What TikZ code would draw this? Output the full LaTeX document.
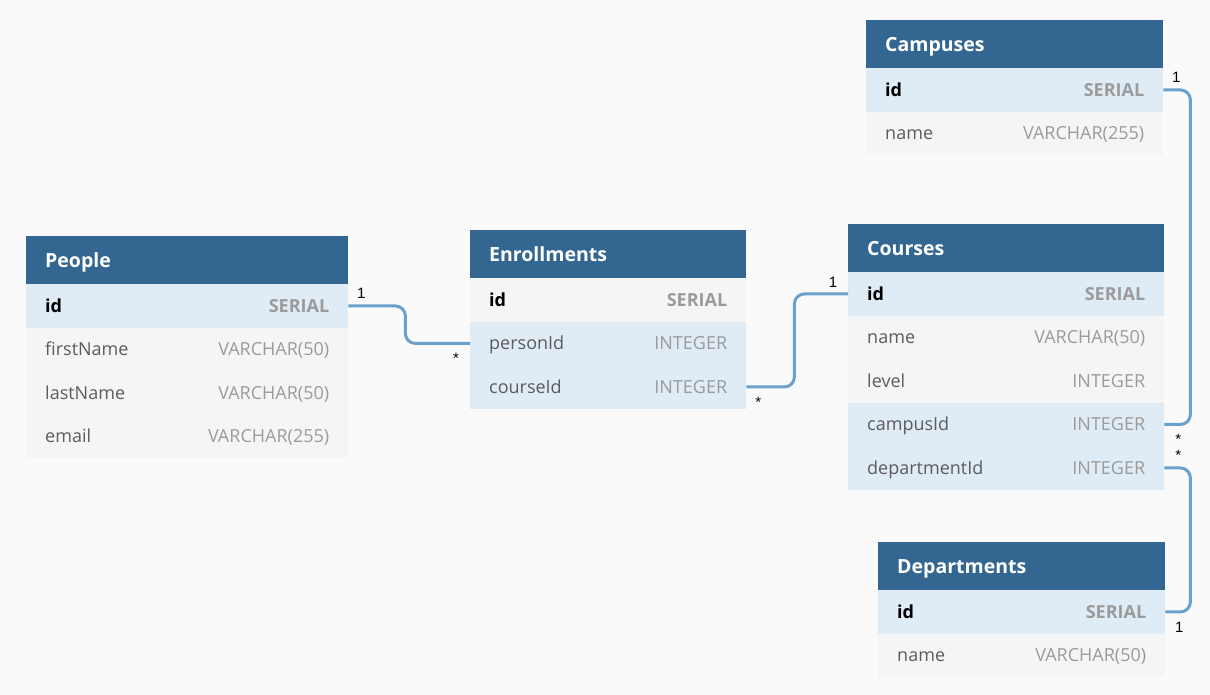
\documentclass[tikz,border=0pt]{standalone}
\usepackage{fontspec}
\setmainfont{Open Sans}
\newfontfamily\cardfont{Liberation Sans}
\usepackage{xcolor}
\usetikzlibrary{matrix}

\definecolor{pagebg}{HTML}{FAFAFA}
\definecolor{headblue}{HTML}{336791}
\definecolor{keyrow}{HTML}{DFEBF5}
\definecolor{plainrow}{HTML}{F5F5F5}
\definecolor{linkblue}{HTML}{6AA1CC}
\definecolor{namegray}{HTML}{5C5C5C}
\definecolor{typegray}{HTML}{9B9B9B}

\newcommand{\coltype}[1]{\hskip 0pt plus 1filll\textcolor{typegray}{#1}}

\tikzset{
  cell/.style={inner xsep=19pt, inner ysep=0pt, minimum height=43.5pt, text height=13pt, text depth=0pt,
    align=justify, fill=plainrow, text=namegray, font=\fontsize{18}{20}\selectfont},
  head/.style={fill=headblue, text=white, minimum height=48pt, text height=14pt,
    font=\fontsize{19.5}{22}\selectfont\bfseries},
  keyfill/.style={nodes={fill=keyrow}},
  tbl/.style={matrix of nodes, inner sep=0pt, row sep=0pt, column sep=0pt, anchor=north west,
    nodes={cell, text width=#1},
    row 1/.style={nodes={head}},
    row 2/.style={nodes={text=black, font=\fontsize{18}{20}\selectfont\bfseries}}},
  link/.style={draw=linkblue, color=linkblue, line width=3pt},
  elbow/.style={rounded corners=10pt, to path={-- ++(#1,0) |- (\tikztotarget)}},
  card/.style={inner sep=0pt, text=black, font=\cardfont\fontsize{15}{15}\selectfont}
}

\begin{document}
\begin{tikzpicture}[x=1pt, y=-1pt]
  \fill[pagebg] (0,0) rectangle (1210,695);

  \matrix (people) [tbl=284pt, row 2/.append style=keyfill] at (26,236) {
    People \\
    id \coltype{SERIAL} \\
    firstName \coltype{VARCHAR(50)} \\
    lastName \coltype{VARCHAR(50)} \\
    email \coltype{VARCHAR(255)} \\
  };
  \matrix (enroll) [tbl=238pt, row 3/.style=keyfill, row 4/.style=keyfill] at (470,230) {
    Enrollments \\
    id \coltype{SERIAL} \\
    personId \coltype{INTEGER} \\
    courseId \coltype{INTEGER} \\
  };
  \matrix (courses) [tbl=278pt, row 2/.append style=keyfill, row 5/.style=keyfill, row 6/.style=keyfill] at (848,224) {
    Courses \\
    id \coltype{SERIAL} \\
    name \coltype{VARCHAR(50)} \\
    level \coltype{INTEGER} \\
    campusId \coltype{INTEGER} \\
    departmentId \coltype{INTEGER} \\
  };
  \matrix (campuses) [tbl=259pt, row 2/.append style=keyfill] at (866,20) {
    Campuses \\
    id \coltype{SERIAL} \\
    name \coltype{VARCHAR(255)} \\
  };
  \matrix (depts) [tbl=249pt, row 2/.append style=keyfill] at (878,542) {
    Departments \\
    id \coltype{SERIAL} \\
    name \coltype{VARCHAR(50)} \\
  };

  \path[link]
    (people-2-1.east) edge[elbow=57] (enroll-3-1.west)
    (enroll-4-1.east) edge[elbow=48] (courses-2-1.west)
    (courses-5-1.east) edge[elbow=26] (campuses-2-1.east)
    (courses-6-1.east) edge[elbow=26] (depts-2-1.east);

  % cardinalities
  \node[card] (people-one) at ([shift={(13,-12.5)}]people-2-1.east) {1};
  \node[card] (person-many) at ([shift={(-14,15)}]enroll-3-1.west) {*};
  \node[card] (course-many) at ([shift={(12,15)}]enroll-4-1.east) {*};
  \node[card] (courses-one) at ([shift={(-15,-12)}]courses-2-1.west) {1};
  \node[card] (campuses-one) at ([shift={(13,-13)}]campuses-2-1.east) {1};
  \node[card] (campus-many) at ([shift={(14,14.5)}]courses-5-1.east) {*};
  \node[card] (dept-many) at ([shift={(14,-12.5)}]courses-6-1.east) {*};
  \node[card] (depts-one) at ([shift={(14,15)}]depts-2-1.east) {1};
\end{tikzpicture}
\end{document}
